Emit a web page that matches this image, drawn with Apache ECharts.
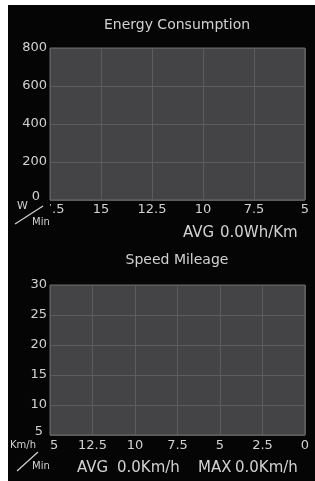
<!DOCTYPE html>
<html>
<head>
<meta charset="utf-8">
<script src="https://cdn.jsdelivr.net/npm/echarts@6/dist/echarts.min.js"></script>
<style>
html, body { margin: 0; padding: 0; background: #fff; }
#panel { position: absolute; left: 8px; top: 5px; width: 307px; height: 476px; background: #050505; }
#report_chart { position: absolute; left: 0; top: 0; width: 315px; height: 481px; }
</style>
</head>
<body>
<div id="panel"></div>
<div id="report_chart"></div>
<script>
// energy chart
var energyMinutes = ['17.5', '15', '12.5', '10', '7.5', '5'];
var energyTicks = [0, 800, 200];
var energyValues = [];
var energyAvg = '0.0';

// speed chart
var speedMinutes = ['15', '12.5', '10', '7.5', '5', '2.5', '0'];
var speedTicks = [5, 30, 5];
var speedValues = [];
var speedAvg = '0.0';
var speedMax = '0.0';

function initChart() {
	var font = 'DejaVu Sans';
	var txt = '#d2d2d2';

	function yAxis(idx, ticks, pad) {
		return {
			type : 'value',
			gridIndex : idx,
			min : ticks[0],
			max : ticks[1],
			interval : ticks[2],
			axisLine : { show : false },
			axisTick : { show : false },
			axisLabel : {
				color : txt,
				fontFamily : font,
				fontSize : 13,
				margin : 3,
				formatter : function(v) {
					return v === ticks[0] ? '{m|' + v + '}' : '' + v;
				},
				rich : {
					m : { color : txt, fontFamily : font, fontSize : 13, padding : pad }
				}
			},
			splitLine : { lineStyle : { color : '#5c5c5e', width : 1 } }
		};
	}

	function xAxis(idx, data, margin) {
		return {
			type : 'category',
			gridIndex : idx,
			boundaryGap : false,
			data : data,
			axisLine : { show : false },
			axisTick : { show : false },
			axisLabel : {
				color : txt,
				fontFamily : font,
				fontSize : 13,
				margin : margin,
				interval : 0
			},
			splitLine : { show : true, interval : 0, lineStyle : { color : '#5c5c5e', width : 1 } }
		};
	}

	function label(x, y, text, size, align) {
		return {
			type : 'text',
			x : x,
			y : y,
			z : 100,
			style : {
				text : text,
				fill : txt,
				font : size + 'px "' + font + '"',
				align : align || 'left',
				verticalAlign : 'middle'
			}
		};
	}

	function cover(y, h, w) {
		return {
			type : 'rect',
			z : 99,
			shape : { x : 8, y : y, width : w, height : h },
			style : { fill : '#050505' }
		};
	}

	function slash(x1, y1, x2, y2) {
		return {
			type : 'line',
			z : 100,
			shape : { x1 : x1, y1 : y1, x2 : x2, y2 : y2 },
			style : { stroke : txt, lineWidth : 1.2 }
		};
	}

	var option = {
		animation : false,
		backgroundColor : 'transparent',
		grid : [ {
			left : 50, top : 48, width : 255, height : 152,
			show : true, backgroundColor : '#444446', borderColor : '#6c6c6c', borderWidth : 1
		}, {
			left : 50, top : 285, width : 255, height : 150,
			show : true, backgroundColor : '#444446', borderColor : '#6c6c6c', borderWidth : 1
		} ],
		xAxis : [ xAxis(0, energyMinutes, 3), xAxis(1, speedMinutes, 4) ],
		yAxis : [ yAxis(0, energyTicks, [0, 7, 6, 0]), yAxis(1, speedTicks, [0, 4, 6, 0]) ],
		series : [ {
			name : 'Energy',
			type : 'line',
			xAxisIndex : 0,
			yAxisIndex : 0,
			data : energyValues
		}, {
			name : 'Speed',
			type : 'line',
			xAxisIndex : 1,
			yAxisIndex : 1,
			data : speedValues
		} ],
		graphic : [
			label(177, 25, 'Energy Consumption', 14, 'center'),
			label(177, 260, 'Speed Mileage', 14, 'center'),
			label(183, 233, 'AVG', 15),
			label(220, 233, energyAvg + 'Wh/Km', 15),
			label(77, 468, 'AVG', 15),
			label(117, 468, speedAvg + 'Km/h', 15),
			label(198, 468, 'MAX', 15),
			label(235, 468, speedMax + 'Km/h', 15),
			cover(202, 14, 42),
			label(17, 206, 'W', 11),
			slash(15, 224, 43, 206),
			label(32, 222, 'Min', 10),
			cover(438, 14, 43),
			label(10, 445, 'Km/h', 10),
			slash(17, 471, 38, 452),
			label(32, 466, 'Min', 10)
		]
	};

	var myChart = echarts.init(document.getElementById('report_chart'));
	myChart.setOption(option);
	window.myChart = myChart;

	window.addEventListener("resize", function() {
		myChart.resize();
	});
}

initChart();
</script>
</body>
</html>
